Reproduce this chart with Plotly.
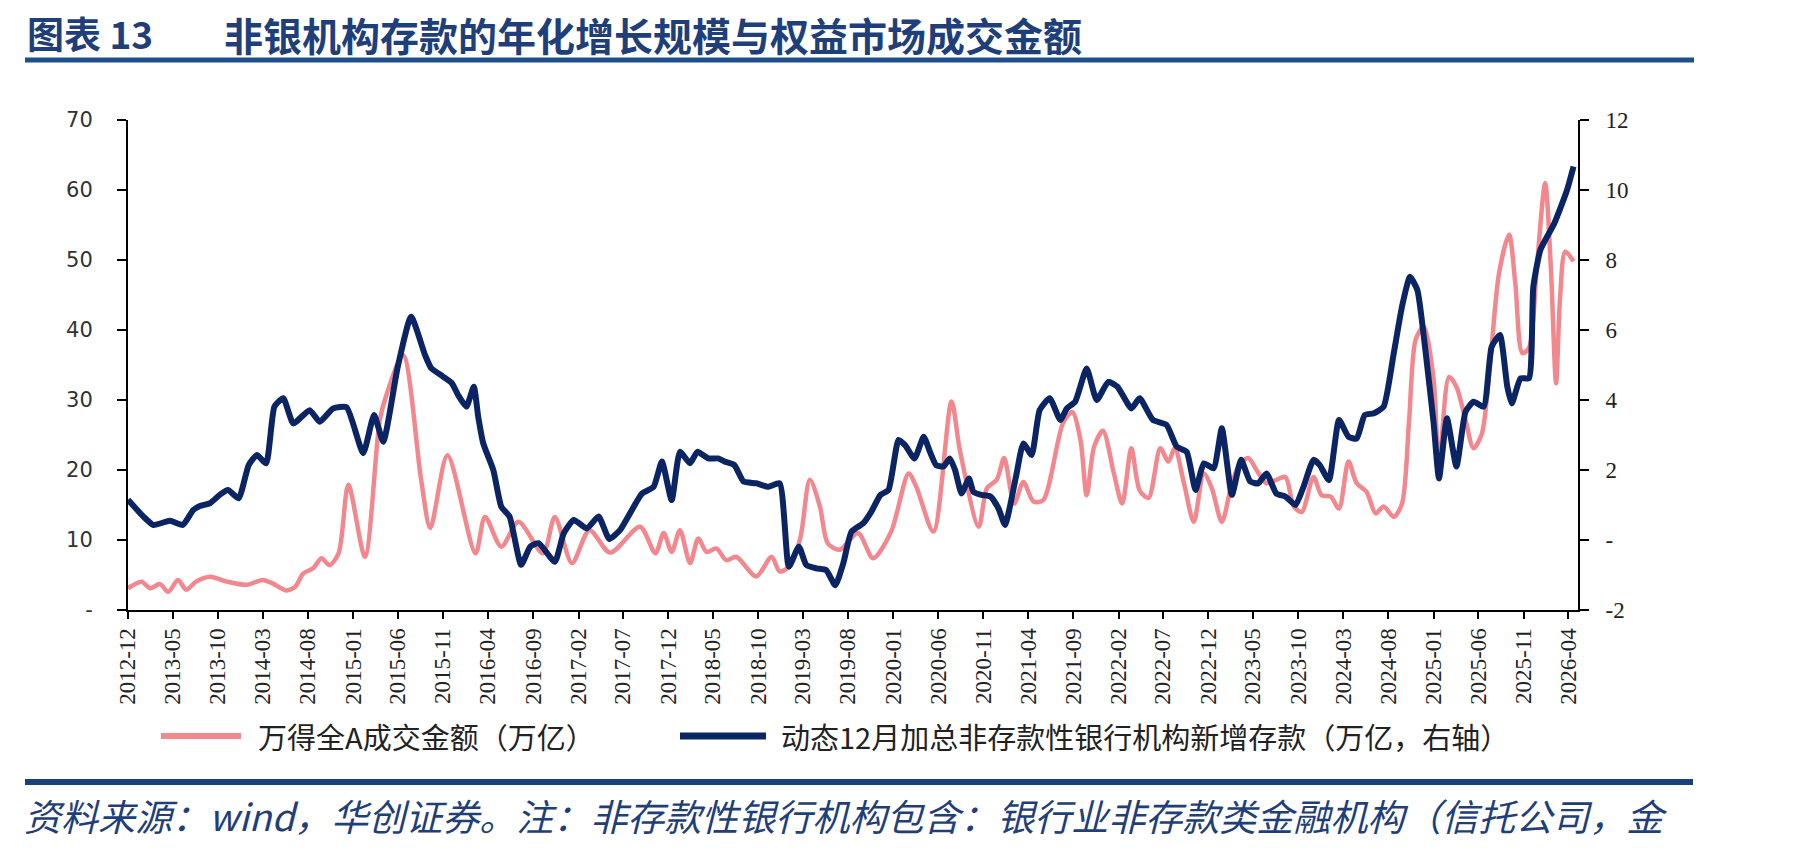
import plotly.graph_objects as go
import pandas as pd

# ---------------- data ----------------
turnover_dates = [
    "2012-12-01", "2013-01-16", "2013-02-13", "2013-03-19", "2013-04-16", "2013-05-19", "2013-06-16", "2013-07-19", "2013-09-04", "2013-11-01",
    "2014-01-07", "2014-03-01", "2014-04-04", "2014-05-19", "2014-06-19", "2014-07-16", "2014-08-19", "2014-09-16", "2014-10-13", "2014-11-13",
    "2014-12-16", "2015-02-10", "2015-04-01", "2015-04-22", "2015-06-19", "2015-08-19", "2015-09-19", "2015-11-16", "2016-02-19", "2016-03-22",
    "2016-05-16", "2016-07-13", "2016-10-04", "2016-11-13", "2017-01-10", "2017-03-10", "2017-05-19", "2017-08-28", "2017-10-19", "2017-11-16",
    "2017-12-13", "2018-01-10", "2018-02-13", "2018-03-13", "2018-04-10", "2018-05-13", "2018-06-16", "2018-07-19", "2018-09-25", "2018-11-16",
    "2018-12-13", "2019-01-19", "2019-02-22", "2019-03-25", "2019-04-28", "2019-05-25", "2019-07-04", "2019-09-04", "2019-10-25", "2019-12-25",
    "2020-02-22", "2020-03-19", "2020-05-16", "2020-07-16", "2020-08-13", "2020-10-16", "2020-11-13", "2020-12-16", "2021-01-10", "2021-02-13",
    "2021-03-16", "2021-04-19", "2021-05-22", "2021-07-28", "2021-08-28", "2021-09-25", "2021-10-16", "2021-11-10", "2021-12-10", "2022-01-16",
    "2022-02-13", "2022-03-16", "2022-04-13", "2022-05-13", "2022-06-22", "2022-07-19", "2022-08-10", "2022-09-10", "2022-10-13", "2022-11-16",
    "2022-12-13", "2023-01-16", "2023-02-19", "2023-03-19", "2023-04-16", "2023-05-13", "2023-06-16", "2023-07-19", "2023-08-19", "2023-09-16",
    "2023-10-13", "2023-11-22", "2023-12-19", "2024-01-19", "2024-02-16", "2024-03-19", "2024-04-16", "2024-05-19", "2024-06-19", "2024-07-16",
    "2024-08-19", "2024-09-16", "2024-10-10", "2024-11-01", "2024-11-28", "2025-01-01", "2025-01-19", "2025-02-22", "2025-03-19", "2025-04-19",
    "2025-05-16", "2025-06-13", "2025-07-10", "2025-08-10", "2025-09-13", "2025-10-04", "2025-10-28", "2025-11-19", "2025-12-16", "2026-01-13",
    "2026-02-01", "2026-02-19", "2026-03-04", "2026-03-22", "2026-04-19",
]
turnover_values = [
    3.1, 4.05, 3.1, 3.7, 2.6, 4.3, 2.9, 4.05, 4.75, 4.05,
    3.6, 4.3, 3.8, 2.8, 3.3, 5.2, 5.95, 7.4, 6.4, 8.1,
    17.9, 7.6, 27.1, 30.5, 36.4, 18.6, 11.7, 22.1, 8.1, 13.3,
    9.05, 12.6, 8.1, 13.3, 6.7, 11.4, 8.2, 11.9, 8.1, 11.0,
    8.3, 11.4, 6.7, 10.2, 8.3, 8.8, 7.1, 7.6, 4.8, 7.6,
    5.5, 6.4, 10.5, 18.6, 14.8, 9.5, 8.6, 11.0, 7.4, 11.2,
    19.5, 17.6, 11.2, 29.8, 22.9, 11.9, 17.4, 18.6, 21.7, 15.2,
    18.3, 15.5, 15.7, 26.7, 28.3, 24.3, 16.4, 23.3, 25.6, 19.5,
    15.2, 23.1, 17.1, 16.0, 23.1, 21.2, 23.1, 18.1, 12.6, 19.5,
    17.4, 12.6, 18.1, 21.0, 21.7, 20.0, 18.1, 18.6, 19.0, 14.8,
    14.0, 19.0, 16.4, 16.2, 14.5, 21.2, 18.1, 16.9, 13.8, 14.8,
    13.3, 15.2, 27.1, 38.6, 40.5, 32.9, 20.5, 33.3, 31.9, 27.1,
    23.1, 25.2, 34.8, 48.1, 53.6, 46.7, 36.7, 37.4, 49.1, 61.0,
    49.1, 32.4, 44.3, 51.2, 49.8,
]

deposit_dates = [
    "2012-12-01", "2013-01-22", "2013-02-25", "2013-04-22", "2013-06-04", "2013-07-10", "2013-08-01", "2013-09-04", "2013-10-07", "2013-11-04",
    "2013-12-10", "2014-01-13", "2014-02-10", "2014-03-13", "2014-04-10", "2014-05-10", "2014-06-13", "2014-08-07", "2014-09-10", "2014-10-25",
    "2014-12-10", "2015-02-04", "2015-03-13", "2015-04-13", "2015-06-01", "2015-07-16", "2015-09-01", "2015-09-22", "2015-11-01", "2015-12-01",
    "2015-12-22", "2016-01-19", "2016-02-13", "2016-02-28", "2016-03-16", "2016-04-19", "2016-05-16", "2016-06-13", "2016-07-22", "2016-08-22",
    "2016-09-19", "2016-11-13", "2016-12-13", "2017-01-16", "2017-03-01", "2017-04-10", "2017-05-16", "2017-06-22", "2017-07-25", "2017-09-04",
    "2017-10-13", "2017-11-10", "2017-12-13", "2018-01-10", "2018-02-13", "2018-03-10", "2018-04-16", "2018-05-19", "2018-06-10", "2018-07-13",
    "2018-08-13", "2018-09-25", "2018-11-04", "2018-12-13", "2019-01-13", "2019-02-16", "2019-03-13", "2019-04-16", "2019-05-19", "2019-06-19",
    "2019-07-16", "2019-08-13", "2019-09-22", "2019-10-19", "2019-11-19", "2019-12-16", "2020-01-19", "2020-02-10", "2020-03-13", "2020-04-13",
    "2020-05-04", "2020-05-25", "2020-06-19", "2020-07-10", "2020-07-28", "2020-08-19", "2020-09-13", "2020-09-28", "2020-10-25", "2020-11-25",
    "2020-12-22", "2021-01-13", "2021-02-19", "2021-03-16", "2021-04-13", "2021-05-10", "2021-06-13", "2021-07-19", "2021-08-10", "2021-09-07",
    "2021-10-16", "2021-11-19", "2021-12-28", "2022-01-28", "2022-03-16", "2022-04-13", "2022-05-28", "2022-07-13", "2022-08-16", "2022-09-19",
    "2022-10-19", "2022-11-16", "2022-12-19", "2023-01-16", "2023-02-19", "2023-03-22", "2023-04-22", "2023-05-19", "2023-06-16", "2023-07-19",
    "2023-08-19", "2023-09-22", "2023-10-19", "2023-11-22", "2023-12-13", "2024-01-13", "2024-02-16", "2024-03-19", "2024-04-16", "2024-05-13",
    "2024-06-13", "2024-07-16", "2024-08-19", "2024-09-16", "2024-10-13", "2024-11-07", "2024-12-04", "2025-01-01", "2025-01-19", "2025-02-15",
    "2025-03-19", "2025-04-19", "2025-05-16", "2025-06-19", "2025-07-16", "2025-08-13", "2025-09-07", "2025-09-22", "2025-10-22", "2025-11-19",
    "2025-12-04", "2025-12-28", "2026-02-13", "2026-03-28", "2026-04-19",
]
deposit_values = [
    1.15, 0.67, 0.43, 0.55, 0.43, 0.86, 0.97, 1.05, 1.29, 1.43,
    1.19, 2.14, 2.43, 2.19, 3.81, 4.05, 3.33, 3.71, 3.38, 3.76,
    3.79, 2.48, 3.57, 2.81, 4.95, 6.38, 5.29, 4.91, 4.67, 4.48,
    4.14, 3.81, 4.38, 3.52, 2.76, 2.0, 0.95, 0.67, -0.71, -0.19,
    -0.09, -0.62, 0.19, 0.57, 0.33, 0.67, 0.03, 0.29, 0.76, 1.33,
    1.52, 2.24, 1.14, 2.52, 2.19, 2.52, 2.33, 2.33, 2.24, 2.14,
    1.67, 1.62, 1.52, 1.62, -0.76, -0.19, -0.71, -0.81, -0.86, -1.29,
    -0.67, 0.24, 0.48, 0.81, 1.29, 1.43, 2.86, 2.71, 2.33, 2.95,
    2.52, 2.14, 2.1, 2.33, 2.0, 1.33, 1.76, 1.38, 1.29, 1.24,
    0.9, 0.43, 1.81, 2.76, 2.43, 3.71, 4.05, 3.43, 3.76, 3.95,
    4.9, 4.0, 4.52, 4.38, 3.76, 4.05, 3.43, 3.29, 2.67, 2.52,
    1.43, 2.19, 2.05, 3.19, 1.29, 2.29, 1.67, 1.62, 1.9, 1.33,
    1.24, 1.0, 1.52, 2.29, 2.14, 1.71, 3.43, 2.95, 2.9, 3.57,
    3.62, 3.81, 5.33, 6.67, 7.52, 7.14, 5.43, 3.33, 1.76, 3.48,
    2.1, 3.67, 3.95, 3.81, 5.52, 5.86, 4.38, 3.9, 4.62, 4.62,
    7.24, 8.29, 9.05, 10.0, 10.67,
]

x_tick_dates = pd.date_range("2012-12-01", "2026-04-01", freq="5MS")
x_tick_labels = [d.strftime("%Y-%m") for d in x_tick_dates]

left_ticks = [0, 10, 20, 30, 40, 50, 60, 70]
left_tick_labels = ["-", "10", "20", "30", "40", "50", "60", "70"]
right_ticks = [-2, 0, 2, 4, 6, 8, 10, 12]
right_tick_labels = ["-2", "-", "2", "4", "6", "8", "10", "12"]

name_turnover = "万得全A成交金额（万亿）"
name_deposit = "动态12月加总非存款性银行机构新增存款（万亿，右轴）"
title_prefix = "图表 13"
title_main = "非银机构存款的年化增长规模与权益市场成交金额"
source_text = "资料来源：wind，华创证券。注：非存款性银行机构包含：银行业非存款类金融机构（信托公司，金"

# ---------------- styling ----------------
W, H = 1801, 848
L, R, T, B = 128, 223, 120, 238
PW, PH = W - L - R, H - T - B
PINK = "#F2878E"
BLUE = "#0B2464"
TITLE_BLUE = "#1F3F7A"
CJK = "Noto Sans CJK SC"


def px_x(px):
    return (px - L) / PW


def px_y(py):
    return (H - B - py) / PH


fig = go.Figure()
fig.add_trace(go.Scatter(
    x=turnover_dates, y=turnover_values, name=name_turnover, mode="lines",
    line=dict(color=PINK, width=4.5, shape="spline", smoothing=0.8),
    yaxis="y", showlegend=False,
))
fig.add_trace(go.Scatter(
    x=deposit_dates, y=deposit_values, name=name_deposit, mode="lines",
    line=dict(color=BLUE, width=6, shape="spline", smoothing=0.5),
    yaxis="y2", showlegend=False,
))

axis_common = dict(showgrid=False, zeroline=False, showline=True, linecolor="#000000",
                   linewidth=2, ticks="outside", tickcolor="#000000", tickwidth=2)

fig.update_layout(
    width=W, height=H, autosize=False,
    margin=dict(l=L, r=R, t=T, b=B, pad=0),
    paper_bgcolor="white", plot_bgcolor="white",
    xaxis=dict(type="date", range=["2012-12-01", "2026-05-04"],
               tickmode="array", tickvals=list(x_tick_dates), ticktext=x_tick_labels,
               tickangle=-90, ticklen=7,
               tickfont=dict(family="Liberation Serif", size=23, color="#222222"),
               **axis_common),
    yaxis=dict(range=[0, 70], tickmode="array", tickvals=left_ticks, ticktext=left_tick_labels,
               ticklen=9, ticklabelstandoff=20,
               tickfont=dict(family="DejaVu Sans", size=21, color="#333333"),
               **axis_common),
    yaxis2=dict(range=[-2, 12], overlaying="y", side="right", anchor="x",
                tickmode="array", tickvals=right_ticks, ticktext=right_tick_labels,
                ticklen=9, ticklabelstandoff=12,
                tickfont=dict(family="Liberation Serif", size=23, color="#222222"),
                **axis_common),
)

shapes = [
    # title underline
    dict(type="line", xref="paper", yref="paper", x0=px_x(25), x1=px_x(1694), y0=px_y(60), y1=px_y(60),
         line=dict(color="#1F4E8C", width=5)),
    # footer line
    dict(type="line", xref="paper", yref="paper", x0=px_x(25), x1=px_x(1693), y0=px_y(782), y1=px_y(782),
         line=dict(color="#17407E", width=6)),
    # legend samples
    dict(type="line", xref="paper", yref="paper", x0=px_x(161), x1=px_x(241), y0=px_y(736), y1=px_y(736),
         line=dict(color=PINK, width=6)),
    dict(type="line", xref="paper", yref="paper", x0=px_x(680), x1=px_x(766), y0=px_y(736), y1=px_y(736),
         line=dict(color=BLUE, width=7)),
]

annotations = [
    dict(text=f"<b>{title_prefix}</b>", xref="paper", yref="paper", x=px_x(25), y=px_y(4),
         xanchor="left", yanchor="top", showarrow=False,
         font=dict(family=CJK, size=37, color=TITLE_BLUE)),
    dict(text=f"<b>{title_main}</b>", xref="paper", yref="paper", x=px_x(222), y=px_y(4),
         xanchor="left", yanchor="top", showarrow=False,
         font=dict(family=CJK, size=39, color=TITLE_BLUE)),
    dict(text=name_turnover, xref="paper", yref="paper", x=px_x(256), y=px_y(736),
         xanchor="left", yanchor="middle", showarrow=False,
         font=dict(family=CJK, size=29, color="#222222")),
    dict(text=name_deposit, xref="paper", yref="paper", x=px_x(779), y=px_y(736),
         xanchor="left", yanchor="middle", showarrow=False,
         font=dict(family=CJK, size=29, color="#222222")),
    dict(text=source_text, xref="paper", yref="paper", x=px_x(22), y=px_y(815),
         xanchor="left", yanchor="middle", showarrow=False,
         font=dict(family=CJK, size=37, color=TITLE_BLUE, style="italic")),
]

fig.update_layout(shapes=shapes, annotations=annotations)

fig.write_html("out.html")
